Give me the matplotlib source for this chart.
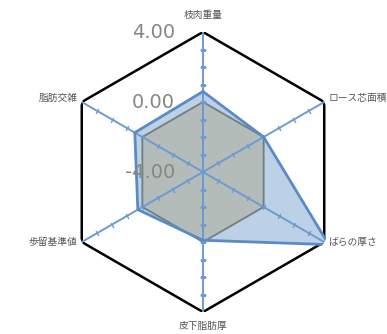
import numpy as np
import matplotlib
matplotlib.use("Agg")
from matplotlib import pyplot as plt

plt.rcParams['font.family'] = ['Noto Sans CJK JP', 'DejaVu Sans']

# データ
categories = ["枝肉重量", "ロース芯面積", "ばらの厚さ", "皮下脂肪厚", "歩留基準値", "脂肪交雑"]
values = [0.6, 0.0, 4.3, -0.1, 0.3, 0.5]
reference = [0.0, 0.0, 0.0, 0.0, 0.0, 0.0]
r_ticks = [4.0, 0.0, -4.0]
r_min, r_max = -4.0, 4.0


def closed(seq):
    return list(seq) + [seq[0]]


def main():
    fig = plt.figure(figsize=(3.87, 3.34), dpi=100)
    ax = fig.add_axes([63 / 387, 22 / 334, 280 / 387, 280 / 334], projection="polar")
    ax.set_theta_zero_location("N")
    ax.set_theta_direction(-1)
    ax.set_ylim(r_min, r_max)
    ax.grid(False)
    ax.spines["polar"].set_visible(False)
    ax.set_xticks([])
    ax.set_yticks([])
    ax.patch.set_alpha(0)

    n = len(categories)
    angles = np.arange(n) * 2 * np.pi / n

    # 外枠
    ax.plot(closed(angles), closed([r_max] * n), color="black", lw=1.8, zorder=2)

    # 軸と目盛り
    minor = np.arange(r_min + 1, r_max, 1.0)
    for a in angles:
        ax.plot([a, a], [r_min, r_max], color="#6c9bd0", lw=1.4, zorder=5)
        rot = 90 - np.degrees(a)
        ax.plot([a] * len(minor), minor, linestyle="none", marker=(2, 0, rot),
                markersize=4, markeredgewidth=1.0, color="#6c9bd0", zorder=5)

    # データ
    ax.fill(closed(angles), closed(values), color="#bdd1e6", zorder=3)
    ax.fill(closed(angles), closed(reference), color="#aeae9c", alpha=0.6, zorder=3)
    ax.plot(closed(angles), closed(reference), color="#6f7f88", lw=1.3, zorder=4)
    ax.plot(closed(angles), closed(values), color="#5a8bc6", lw=2.0, zorder=6)

    # 目盛りラベル
    for r in r_ticks:
        ax.annotate(f"{r:.2f}", xy=(0, r), xytext=(-20, 0), textcoords="offset points",
                    ha="right", va="center", fontsize=14, color="#8a8580",
                    family=["DejaVu Sans"], zorder=7)

    # 項目ラベル
    offsets = [(0, 12, "center", "center"), (3, 3, "left", "center"), (3, 0, "left", "center"),
               (0, -10, "center", "center"), (-3, 0, "right", "center"), (-3, 3, "right", "center")]
    for a, lab, (dx, dy, ha, va) in zip(angles, categories, offsets):
        ax.annotate(lab, xy=(a, r_max), xytext=(dx, dy), textcoords="offset points",
                    ha=ha, va=va, fontsize=7, color="#555555", annotation_clip=False)

    fig.savefig("out.png", dpi=100)


if __name__ == "__main__":
    main()
